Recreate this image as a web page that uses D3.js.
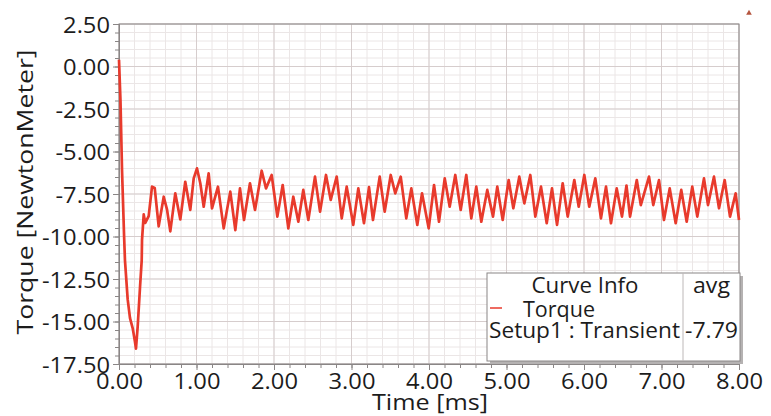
<!DOCTYPE html>
<html>
<head>
<meta charset="utf-8">
<script src="https://cdn.jsdelivr.net/npm/d3@7"></script>
<style>
  body { margin: 0; background: #fff; }
  svg { display: block; }
  text { font-family: "Open Sans", sans-serif; fill: #1c1c1c; }
</style>
</head>
<body>
<svg id="chart" width="771" height="416"></svg>
<script>
// torque curve (time in ms, torque in N.m)
var timeMs = [
    0.000, 0.019, 0.039, 0.065, 0.077, 0.112, 0.142, 0.177, 0.206, 0.219,
    0.241, 0.271, 0.293, 0.297, 0.319, 0.339, 0.383, 0.426, 0.461, 0.512,
    0.577, 0.619, 0.662, 0.726, 0.791, 0.855, 0.920, 0.964, 1.006, 1.049,
    1.093, 1.157, 1.200, 1.277, 1.351, 1.436, 1.501, 1.561, 1.613, 1.690,
    1.755, 1.841, 1.897, 1.970, 2.043, 2.112, 2.185, 2.249, 2.314, 2.378,
    2.443, 2.529, 2.594, 2.671, 2.732, 2.809, 2.874, 2.938, 3.023, 3.088,
    3.161, 3.226, 3.277, 3.364, 3.428, 3.506, 3.565, 3.635, 3.707, 3.772,
    3.849, 3.910, 3.996, 4.065, 4.129, 4.203, 4.267, 4.339, 4.409, 4.481,
    4.546, 4.610, 4.675, 4.752, 4.826, 4.881, 4.951, 5.028, 5.088, 5.165,
    5.230, 5.307, 5.372, 5.445, 5.519, 5.587, 5.652, 5.725, 5.790, 5.875,
    5.932, 6.004, 6.068, 6.146, 6.219, 6.284, 6.348, 6.422, 6.490, 6.548,
    6.594, 6.681, 6.733, 6.839, 6.894, 6.968, 7.032, 7.106, 7.183, 7.255,
    7.325, 7.397, 7.462, 7.548, 7.600, 7.677, 7.742, 7.815, 7.884, 7.957,
    8.000
];
var torque = [
    0.40, -2.00, -6.10, -9.90, -11.40, -13.70, -14.80, -15.40, -16.20, -16.60,
    -15.30, -13.00, -11.40, -10.20, -8.70, -9.20, -8.80, -7.07, -7.15, -9.40,
    -7.66, -8.40, -9.70, -7.46, -9.00, -6.78, -8.44, -6.58, -5.99, -6.87,
    -8.25, -6.28, -8.34, -7.07, -9.52, -7.36, -9.62, -7.17, -9.03, -6.87,
    -8.44, -6.13, -7.17, -6.38, -8.83, -6.97, -9.52, -7.66, -9.13, -7.26,
    -9.03, -6.48, -8.54, -6.38, -7.85, -6.48, -8.93, -7.07, -9.32, -7.17,
    -9.22, -7.10, -9.03, -6.48, -8.54, -6.38, -7.46, -6.48, -8.93, -7.17,
    -9.32, -7.46, -9.52, -6.97, -9.13, -6.58, -8.25, -6.38, -8.44, -6.38,
    -8.93, -7.07, -9.13, -7.26, -8.83, -7.07, -9.03, -6.68, -8.34, -6.48,
    -8.05, -6.38, -8.83, -7.07, -9.22, -7.17, -9.32, -6.87, -8.83, -6.68,
    -8.25, -6.38, -8.25, -6.58, -8.93, -7.07, -9.22, -7.17, -8.83, -7.00,
    -8.83, -6.68, -8.15, -6.48, -8.15, -6.68, -9.03, -7.17, -9.22, -7.26,
    -9.13, -7.07, -8.83, -6.58, -8.15, -6.48, -8.34, -6.68, -8.83, -7.46,
    -9.03
];

var xTicks = [0, 1, 2, 3, 4, 5, 6, 7, 8];
var yTicks = [2.5, 0, -2.5, -5, -7.5, -10, -12.5, -15, -17.5];
var xMinor = d3.range(0, 8.001, 0.2);
var yMinor = d3.range(-17.5, 2.501, 0.5);

var legendHeader = ["Curve Info", "avg"];
var legendName = "Torque";
var legendSetup = "Setup1 : Transient";
var legendAvg = "-7.79";

var svg = d3.select("#chart");
var plotL = 119, plotR = 739, plotT = 24, plotB = 364;

var x = d3.scaleLinear().domain([0, 8]).range([plotL, plotR]);
var y = d3.scaleLinear().domain([-17.5, 2.5]).range([plotB, plotT]);

// grid, minor first then the darker major lines
var grid = svg.append("g");
grid.selectAll(".vmin").data(xMinor).enter().append("line")
    .attr("x1", d => x(d)).attr("x2", d => x(d))
    .attr("y1", plotT).attr("y2", plotB)
    .attr("stroke", "#ebe6e6").attr("stroke-width", 1);
grid.selectAll(".hmin").data(yMinor).enter().append("line")
    .attr("x1", plotL).attr("x2", plotR)
    .attr("y1", d => y(d)).attr("y2", d => y(d))
    .attr("stroke", "#ebe6e6").attr("stroke-width", 1);
grid.selectAll(".vmaj").data(xTicks).enter().append("line")
    .attr("x1", d => x(d)).attr("x2", d => x(d))
    .attr("y1", plotT).attr("y2", plotB)
    .attr("stroke", "#d6cdcd").attr("stroke-width", 1);
grid.selectAll(".hmaj").data(yTicks).enter().append("line")
    .attr("x1", plotL).attr("x2", plotR)
    .attr("y1", d => y(d)).attr("y2", d => y(d))
    .attr("stroke", "#d6cdcd").attr("stroke-width", 1);

// frame
svg.append("rect")
    .attr("x", plotL).attr("y", plotT)
    .attr("width", plotR - plotL).attr("height", plotB - plotT)
    .attr("fill", "none").attr("stroke", "#8a8686").attr("stroke-width", 1);

// axes: minor ticks (no labels) then major ticks with labels
svg.append("g").attr("transform", "translate(" + plotL + ",0)")
    .call(d3.axisLeft(y).tickValues(yMinor).tickSize(4).tickFormat(""));
svg.append("g").attr("transform", "translate(0," + plotB + ")")
    .call(d3.axisBottom(x).tickValues(xMinor).tickSize(4).tickFormat(""));

var fmt = d => d.toFixed(2);
var yAxis = svg.append("g").attr("transform", "translate(" + plotL + ",0)")
    .call(d3.axisLeft(y).tickValues(yTicks).tickSize(6).tickFormat(fmt));
var xAxis = svg.append("g").attr("transform", "translate(0," + plotB + ")")
    .call(d3.axisBottom(x).tickValues(xTicks).tickSize(6).tickFormat(fmt));

svg.selectAll(".domain").attr("stroke", "#8a8686");
svg.selectAll(".tick line").attr("stroke", "#8a8686");

yAxis.selectAll("text")
    .attr("x", 0).attr("dy", null)
    .attr("transform", "translate(-9,8) scale(1.13,1)")
    .style("font-size", "21px").style("fill", "#1c1c1c");
xAxis.selectAll("text")
    .attr("y", 0).attr("dy", null)
    .attr("transform", "translate(0,25) scale(1.13,1)")
    .style("font-size", "21px").style("fill", "#1c1c1c");

// axis titles
svg.append("text")
    .attr("transform", "translate(33,192) rotate(-90)")
    .attr("text-anchor", "middle")
    .attr("textLength", 285).attr("lengthAdjust", "spacingAndGlyphs")
    .style("font-size", "22px")
    .text("Torque [NewtonMeter]");
svg.append("text")
    .attr("x", 430).attr("y", 410)
    .attr("text-anchor", "middle")
    .attr("textLength", 116).attr("lengthAdjust", "spacingAndGlyphs")
    .style("font-size", "21px")
    .text("Time [ms]");

// the curve
var line = d3.line()
    .x((d, i) => x(timeMs[i]))
    .y(d => y(d));
svg.append("path")
    .datum(torque)
    .attr("d", line)
    .attr("fill", "none")
    .attr("stroke", "#e83a2c")
    .attr("stroke-width", 2.7)
    .attr("stroke-linejoin", "round");

// legend box
var lg = svg.append("g");
lg.append("rect").attr("x", 490).attr("y", 276).attr("width", 253).attr("height", 88)
    .attr("fill", "#b5b2b2");
lg.append("rect").attr("x", 487).attr("y", 273).attr("width", 253).attr("height", 88)
    .attr("fill", "#fff").attr("stroke", "#8a8686").attr("stroke-width", 1);
lg.append("line").attr("x1", 683).attr("x2", 683).attr("y1", 273).attr("y2", 361)
    .attr("stroke", "#bdb8b8");

function legendText(str, xx, yy, w, anchor) {
    lg.append("text").attr("x", xx).attr("y", yy)
        .attr("text-anchor", anchor || "start")
        .attr("textLength", w).attr("lengthAdjust", "spacingAndGlyphs")
        .style("font-size", "21px")
        .text(str);
}
legendText(legendHeader[0], 585, 293, 107, "middle");
legendText(legendHeader[1], 711.5, 293, 37, "middle");
lg.append("line").attr("x1", 490).attr("x2", 502).attr("y1", 308).attr("y2", 308)
    .attr("stroke", "#e83a2c").attr("stroke-width", 1.5);
legendText(legendName, 523, 317, 72);
legendText(legendSetup, 489, 338, 191);
legendText(legendAvg, 685, 338, 53);

// small marker in the top right corner
svg.append("path")
    .attr("d", d3.symbol().type(d3.symbolTriangle).size(14)())
    .attr("transform", "translate(749,13)")
    .attr("fill", "#b5553e");
</script>
</body>
</html>
